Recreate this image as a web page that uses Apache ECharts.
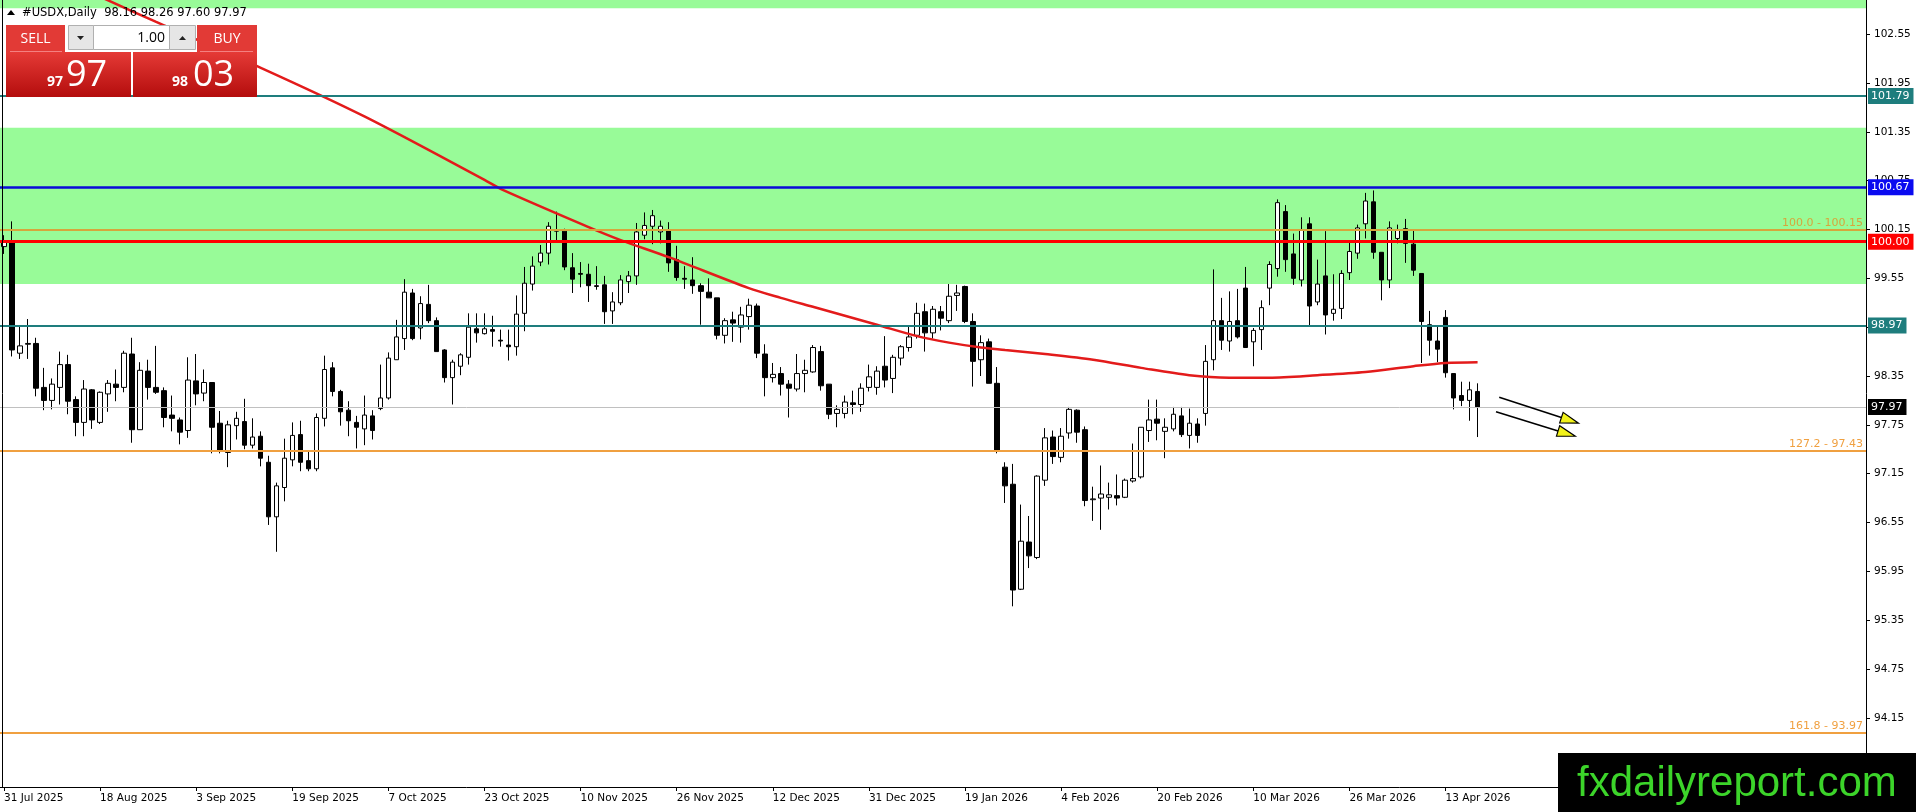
<!DOCTYPE html>
<html><head><meta charset="utf-8">
<script src="https://cdn.jsdelivr.net/npm/echarts@6/dist/echarts.min.js"></script>
<style>html,body{margin:0;padding:0;background:#fff;}#c{width:1916px;height:812px;}</style>
</head><body><div id="c"></div>
<script>
// ---------- DATA ----------
const tickLabels = ['31 Jul 2025','18 Aug 2025','3 Sep 2025','19 Sep 2025','7 Oct 2025','23 Oct 2025','10 Nov 2025','26 Nov 2025','12 Dec 2025','31 Dec 2025','19 Jan 2026','4 Feb 2026','20 Feb 2026','10 Mar 2026','26 Mar 2026','13 Apr 2026'];
const yTicks = [94.15,94.75,95.35,95.95,96.55,97.15,97.75,98.35,98.95,99.55,100.15,100.75,101.35,101.95,102.55];

const opens = [99.94,100.00,98.63,98.74,98.75,98.21,98.05,98.21,98.49,98.06,97.78,98.18,97.78,98.13,98.25,98.21,98.62,97.69,98.41,98.21,98.17,97.87,97.81,97.68,98.29,98.14,98.27,97.77,97.41,97.74,
97.79,97.50,97.61,97.29,96.62,96.98,97.32,97.63,97.31,97.21,97.83,98.45,98.16,97.93,97.78,97.70,97.86,97.95,98.08,98.55,98.81,99.37,98.94,99.23,99.03,98.67,98.33,98.47,98.58,98.93,
98.87,98.92,98.79,98.73,98.71,99.12,99.48,99.75,99.86,100.15,100.13,99.68,99.61,99.60,99.45,99.47,99.15,99.25,99.51,99.58,100.08,100.19,100.12,100.15,99.78,99.55,99.53,99.46,99.38,99.31,
98.85,99.04,98.95,99.08,99.21,98.62,98.33,98.38,98.25,98.19,98.38,98.40,98.65,98.25,97.89,97.89,98.02,98.00,98.21,98.21,98.47,98.32,98.57,98.70,98.85,99.14,98.88,99.14,99.03,99.34,
99.45,99.02,98.55,98.77,98.26,97.23,97.02,95.73,96.31,96.12,97.07,97.60,97.35,97.65,97.93,97.69,96.83,96.85,96.86,96.88,96.86,97.06,97.11,97.68,97.82,97.67,97.70,97.86,97.62,97.76,
97.89,98.55,99.03,98.78,99.03,99.43,98.77,98.92,99.43,99.67,100.37,99.85,99.53,100.22,99.26,99.58,99.12,99.18,99.62,99.86,100.22,100.49,99.87,99.53,100.04,100.16,99.97,99.61,98.98,98.78,
99.07,98.38,98.11,98.05,98.16];
const highs = [100.08,100.25,98.97,99.05,98.82,98.45,98.32,98.65,98.61,98.10,98.30,98.19,98.16,98.30,98.43,98.66,98.82,98.52,98.55,98.72,98.21,98.11,97.84,98.58,98.62,98.43,98.27,97.92,97.80,97.91,
98.07,97.83,97.67,97.37,97.04,97.58,97.78,97.80,97.43,97.89,98.60,98.52,98.18,98.04,97.86,98.11,97.93,98.49,98.64,99.04,99.54,99.42,99.33,99.47,99.07,98.68,98.55,98.63,99.12,99.12,
99.12,99.09,98.92,98.92,99.34,99.69,99.82,99.96,100.24,100.37,100.16,99.86,99.75,99.73,99.70,99.58,99.38,99.59,99.64,100.23,100.36,100.39,100.26,100.24,99.95,99.70,99.81,99.49,99.55,99.31,
99.06,99.14,99.20,99.30,99.24,98.74,98.51,98.46,98.30,98.62,98.55,98.73,98.72,98.25,97.99,98.11,98.17,98.26,98.49,98.47,98.84,98.61,98.73,98.97,99.25,99.24,99.21,99.21,99.48,99.47,
99.46,99.12,98.85,98.81,98.46,97.29,97.27,96.77,96.63,97.13,97.71,97.68,97.71,97.97,97.94,97.73,96.99,97.25,97.04,97.14,97.09,97.52,97.72,98.06,98.06,97.83,97.97,97.97,97.95,97.83,
98.73,99.66,99.31,99.39,99.42,99.69,98.94,99.28,99.76,100.52,100.45,100.10,100.30,100.30,99.78,100.13,99.60,99.65,100.00,100.21,100.60,100.63,99.87,100.25,100.21,100.28,100.14,99.61,99.15,98.97,
99.16,98.38,98.28,98.28,98.26];
const lows = [99.85,98.59,98.56,98.56,98.10,97.93,97.94,98.00,97.88,97.61,97.61,97.70,97.76,97.91,98.04,98.15,97.53,97.69,98.06,98.13,97.72,97.67,97.51,97.59,97.99,98.04,97.40,97.40,97.23,97.57,
97.45,97.46,97.24,96.52,96.19,96.81,97.24,97.18,97.18,97.18,97.73,98.10,97.74,97.61,97.46,97.50,97.57,97.93,98.06,98.55,98.67,98.79,98.80,99.00,98.65,98.27,98.00,98.36,98.49,98.76,
98.86,98.71,98.71,98.54,98.60,98.90,99.40,99.70,99.72,100.02,99.65,99.37,99.44,99.26,99.41,98.99,98.99,99.22,99.37,99.47,100.03,99.97,99.98,99.63,99.52,99.42,99.36,98.98,99.31,98.80,
98.75,98.77,98.76,98.92,98.57,98.10,98.27,98.11,97.84,98.16,98.15,98.39,98.17,97.82,97.72,97.83,97.88,97.91,98.16,98.12,98.21,98.14,98.48,98.65,98.81,98.65,98.81,98.91,99.00,99.15,
99.00,98.22,98.35,98.26,97.40,96.79,95.52,95.72,95.99,96.10,97.00,97.27,97.29,97.58,97.53,96.75,96.57,96.46,96.71,96.76,96.85,97.04,97.09,97.54,97.56,97.34,97.67,97.60,97.46,97.53,
97.74,98.42,98.67,98.65,98.81,98.70,98.47,98.67,99.22,99.57,99.63,99.47,99.45,98.96,99.22,98.86,99.03,99.05,99.53,99.79,100.04,99.79,99.28,99.43,99.98,99.74,99.58,98.51,98.60,98.52,
98.33,97.94,97.98,97.80,97.60];
const closes = [100.00,98.67,98.72,98.75,98.20,98.05,98.25,98.49,98.04,97.78,98.19,97.81,98.15,98.26,98.21,98.63,97.69,98.42,98.21,98.15,97.84,97.83,97.66,98.30,98.13,98.27,97.72,97.44,97.75,97.83,
97.50,97.60,97.34,96.62,97.00,97.34,97.62,97.29,97.21,97.84,98.43,98.16,97.91,97.80,97.72,97.87,97.68,98.08,98.57,98.83,99.38,98.81,99.24,99.03,98.65,98.33,98.52,98.61,98.95,98.88,
98.93,98.90,98.78,98.71,99.11,99.49,99.70,99.86,100.19,100.13,99.69,99.54,99.60,99.46,99.46,99.14,99.26,99.53,99.58,100.12,100.20,100.32,100.19,99.74,99.56,99.54,99.46,99.39,99.31,98.85,
99.03,99.00,99.10,99.22,98.63,98.33,98.37,98.25,98.20,98.38,98.42,98.70,98.23,97.88,97.94,98.03,98.00,98.20,98.34,98.41,98.30,98.58,98.71,98.83,99.12,98.88,99.17,99.06,99.33,99.37,
99.02,98.53,98.76,98.26,97.44,97.00,95.72,96.32,96.14,97.12,97.59,97.36,97.61,97.94,97.66,96.82,96.84,96.90,96.89,96.85,97.07,97.09,97.72,97.81,97.77,97.72,97.88,97.63,97.77,97.62,
98.53,99.03,98.79,99.02,98.83,98.70,98.91,99.19,99.72,100.48,99.78,99.55,100.15,99.21,99.48,99.10,99.17,99.61,99.88,100.17,100.50,99.87,99.53,100.17,100.15,99.98,99.65,99.02,98.79,98.68,
98.39,98.08,98.05,98.18,97.97];

const maIndex = [12,19,32,45,60,62,73,77,83,93,97,101,105,109,114,118,122,125,130,136,142,148,153,158,164,170,176,180,184];
const maValue = [103.01,102.70,102.14,101.54,100.76,100.65,100.18,100.02,99.81,99.43,99.31,99.20,99.09,98.98,98.84,98.76,98.70,98.67,98.62,98.55,98.45,98.36,98.33,98.33,98.36,98.40,98.47,98.51,98.52];

const levelPrices = [101.79, 100.67, 100.00, 98.97, 97.97];
const fibPrices = [100.15, 97.43, 93.97];
const fibTexts = ['100.0 - 100.15', '127.2 - 97.43', '161.8 - 93.97'];
const zoneBands = [[99.48, 101.40], [102.87, 102.97]];
const arrowStarts = [[186.7, 98.09], [186.3, 97.91]];
const arrowEnds = [[196.6, 97.77], [196.2, 97.61]];
const bidPrice = '97.97', askPrice = '98.03';
const barCount = 233;

// ---------- STYLES ----------
const levelStyles = [
  {line:'#1e7d7d', width:2, bg:'#1e7d7d'},
  {line:'#0a0ad8', width:2.5, bg:'#0a0af0'},
  {line:'#ff0000', width:3, bg:'#ff0000'},
  {line:'#1e7d7d', width:2, bg:'#1e7d7d'},
  {line:'#c0c0c0', width:1, bg:'#000000'}
];
const fibColors = ['#d6a63c', '#f0a040', '#f0a040'];
const FONT = 'DejaVu Sans';

const categories = Array.from({length: barCount}, (_, i) => String(i));
const candleData = opens.map((o, i) => [o, closes[i], lows[i], highs[i]]);
const maData = maIndex.map((x, k) => [x, maValue[k]]);

const chart = echarts.init(document.getElementById('c'), null, {renderer: 'canvas'});

const levelLines = levelPrices.map((p, k) => ({
  yAxis: p,
  lineStyle: {color: levelStyles[k].line, width: levelStyles[k].width, type: 'solid'},
  label: {show: true, position: 'end', distance: 2, formatter: p.toFixed(2), color: '#fff',
    backgroundColor: levelStyles[k].bg, padding: [3, 4, 2, 3], fontFamily: FONT, fontSize: 11}
}));
const fibLines = fibPrices.map((p, k) => ({
  yAxis: p,
  lineStyle: {color: fibColors[k], width: 2, type: 'solid'},
  label: {show: true, position: 'insideEndTop', distance: 1, formatter: fibTexts[k], color: fibColors[k],
    fontFamily: FONT, fontSize: 11, padding: [0, 2, 0, 0]}
}));

const lastIdx = opens.length - 1;
const titleText = '#USDX,Daily  ' + [opens[lastIdx], highs[lastIdx], lows[lastIdx], closes[lastIdx]].map(v => v.toFixed(2)).join(' ');

const redGrad = {type:'linear', x:0, y:0, x2:0, y2:1, colorStops:[{offset:0, color:'#e53a36'},{offset:1, color:'#b40d0d'}]};
const staticGraphics = [
  {type:'line', shape:{x1:2.5, y1:0, x2:2.5, y2:787}, style:{stroke:'#000', lineWidth:1}, z:50, silent:true},
  {type:'polygon', shape:{points:[[7,15],[15,15],[11,10]]}, style:{fill:'#000'}, z:60},
  {type:'text', x:22, y:13, style:{text:titleText, font:'11.5px "DejaVu Sans"', fill:'#000', verticalAlign:'middle'}, z:60},
  // trade panel
  {type:'rect', shape:{x:6, y:25, width:59, height:27}, style:{fill:'#e23a36'}, z:70},
  {type:'line', shape:{x1:10, y1:51.5, x2:62, y2:51.5}, style:{stroke:'#f48080', lineWidth:1}, z:71},
  {type:'text', x:35.5, y:39, style:{text:'SELL', font:'14px "Open Sans"', fill:'#fff', align:'center', verticalAlign:'middle'}, z:72},
  {type:'rect', shape:{x:197, y:25, width:60, height:27}, style:{fill:'#e23a36'}, z:70},
  {type:'line', shape:{x1:200, y1:51.5, x2:253, y2:51.5}, style:{stroke:'#f48080', lineWidth:1}, z:71},
  {type:'text', x:227, y:39, style:{text:'BUY', font:'14px "Open Sans"', fill:'#fff', align:'center', verticalAlign:'middle'}, z:72},
  {type:'rect', shape:{x:68.5, y:25.5, width:25, height:24}, style:{fill:'#e6e6e6', stroke:'#b0b0b0', lineWidth:1}, z:70},
  {type:'polygon', shape:{points:[[77,36],[84,36],[80.5,40]]}, style:{fill:'#222'}, z:71},
  {type:'rect', shape:{x:93.5, y:25.5, width:76, height:24}, style:{fill:'#fff', stroke:'#b0b0b0', lineWidth:1}, z:70},
  {type:'text', x:165, y:38, style:{text:'1.00', font:'14px "Open Sans"', fill:'#000', align:'right', verticalAlign:'middle'}, z:72},
  {type:'rect', shape:{x:169.5, y:25.5, width:26, height:24}, style:{fill:'#e6e6e6', stroke:'#b0b0b0', lineWidth:1}, z:70},
  {type:'polygon', shape:{points:[[179,40],[186,40],[182.5,36]]}, style:{fill:'#222'}, z:71},
  {type:'rect', shape:{x:6, y:52, width:125, height:45}, style:{fill:redGrad}, z:70},
  {type:'rect', shape:{x:133, y:52, width:124, height:45}, style:{fill:redGrad}, z:70},
  {type:'text', x:47, y:89, style:{text:bidPrice.slice(0,2), font:'bold 14px "Open Sans"', fill:'#fff', verticalAlign:'bottom'}, z:72},
  {type:'text', x:66, y:94, style:{text:bidPrice.slice(3), font:'36px "Open Sans"', fill:'#fff', verticalAlign:'bottom'}, z:72},
  {type:'text', x:172, y:89, style:{text:askPrice.slice(0,2), font:'bold 14px "Open Sans"', fill:'#fff', verticalAlign:'bottom'}, z:72},
  {type:'text', x:193, y:94, style:{text:askPrice.slice(3), font:'36px "Open Sans"', fill:'#fff', verticalAlign:'bottom'}, z:72},
  // logo
  {type:'rect', shape:{x:1558, y:753, width:358, height:59}, style:{fill:'#000'}, z:80},
  {type:'text', x:1577, y:784, style:{text:'fxdailyreport.com', font:'42px "Liberation Sans"', fill:'#3cd42a', verticalAlign:'middle'}, z:81}
];

const option = {
  animation: false,
  backgroundColor: '#ffffff',
  grid: {left: 0, right: 50, top: 0, bottom: 25, containLabel: false},
  xAxis: {
    type: 'category', data: categories, boundaryGap: true,
    axisLine: {show: true, lineStyle: {color: '#000', width: 1}},
    axisTick: {show: true, alignWithLabel: true, length: 4, lineStyle: {color: '#000'},
      interval: (idx) => idx % 12 === 0 && idx / 12 < tickLabels.length},
    axisLabel: {show: true, align: 'left', margin: 6, color: '#000', fontFamily: FONT, fontSize: 10.5,
      interval: (idx) => idx % 12 === 0 && idx / 12 < tickLabels.length,
      formatter: (val, idx) => tickLabels[idx / 12] || ''},
    splitLine: {show: false}
  },
  yAxis: {
    type: 'value', position: 'right', min: 93.30, max: 102.97, scale: true,
    axisLine: {show: true, lineStyle: {color: '#000', width: 1}},
    axisTick: {show: true, length: 4, customValues: yTicks, lineStyle: {color: '#000'}},
    axisLabel: {show: true, customValues: yTicks, margin: 8, color: '#000', fontFamily: FONT, fontSize: 10.5,
      formatter: (v) => v.toFixed(2)},
    splitLine: {show: false}
  },
  series: [
    {
      type: 'line', data: [], z: 1, silent: true,
      markArea: {silent: true, itemStyle: {color: '#98fb98', opacity: 1},
        data: zoneBands.map(b => [{yAxis: b[0]}, {yAxis: b[1]}])}
    },
    {
      type: 'candlestick', data: candleData, z: 3, barWidth: 5, silent: true,
      itemStyle: {color: '#ffffff', color0: '#000000', borderColor: '#000000', borderColor0: '#000000', borderWidth: 1}
    },
    {
      type: 'line', data: maData, z: 4, showSymbol: false, symbol: 'none', smooth: 0.3, silent: true,
      lineStyle: {color: '#e31b1b', width: 2.5}
    },
    {
      type: 'line', data: [], z: 5, silent: true,
      markLine: {silent: true, symbol: ['none', 'none'], animation: false, data: fibLines.concat(levelLines)}
    }
  ],
  graphic: staticGraphics
};
chart.setOption(option);

// arrows placed through the axes' scales
function px(pt) {
  const i0 = Math.floor(pt[0]), f = pt[0] - i0;
  const a = chart.convertToPixel({xAxisIndex: 0}, i0);
  const b = chart.convertToPixel({xAxisIndex: 0}, i0 + 1);
  const y = chart.convertToPixel({yAxisIndex: 0}, pt[1]);
  return [a + (b - a) * f, y];
}
const arrowGraphics = [];
arrowStarts.forEach((s, k) => {
  const p0 = px(s), p1 = px(arrowEnds[k]);
  const dx = p1[0] - p0[0], dy = p1[1] - p0[1], L = Math.hypot(dx, dy);
  const ux = dx / L, uy = dy / L, nx = -uy, ny = ux;
  const hl = 18, hw = 5.5;
  const bx = p1[0] - ux * hl, by = p1[1] - uy * hl;
  arrowGraphics.push({type:'line', shape:{x1:p0[0], y1:p0[1], x2:bx, y2:by}, style:{stroke:'#000', lineWidth:1.6}, z:60});
  arrowGraphics.push({type:'polygon', shape:{points:[[p1[0], p1[1]], [bx + nx*hw, by + ny*hw], [bx - nx*hw, by - ny*hw]]},
    style:{fill:'#f2f21a', stroke:'#000', lineWidth:1.2}, z:61});
});
chart.setOption({graphic: staticGraphics.concat(arrowGraphics)});
</script>
</body></html>
